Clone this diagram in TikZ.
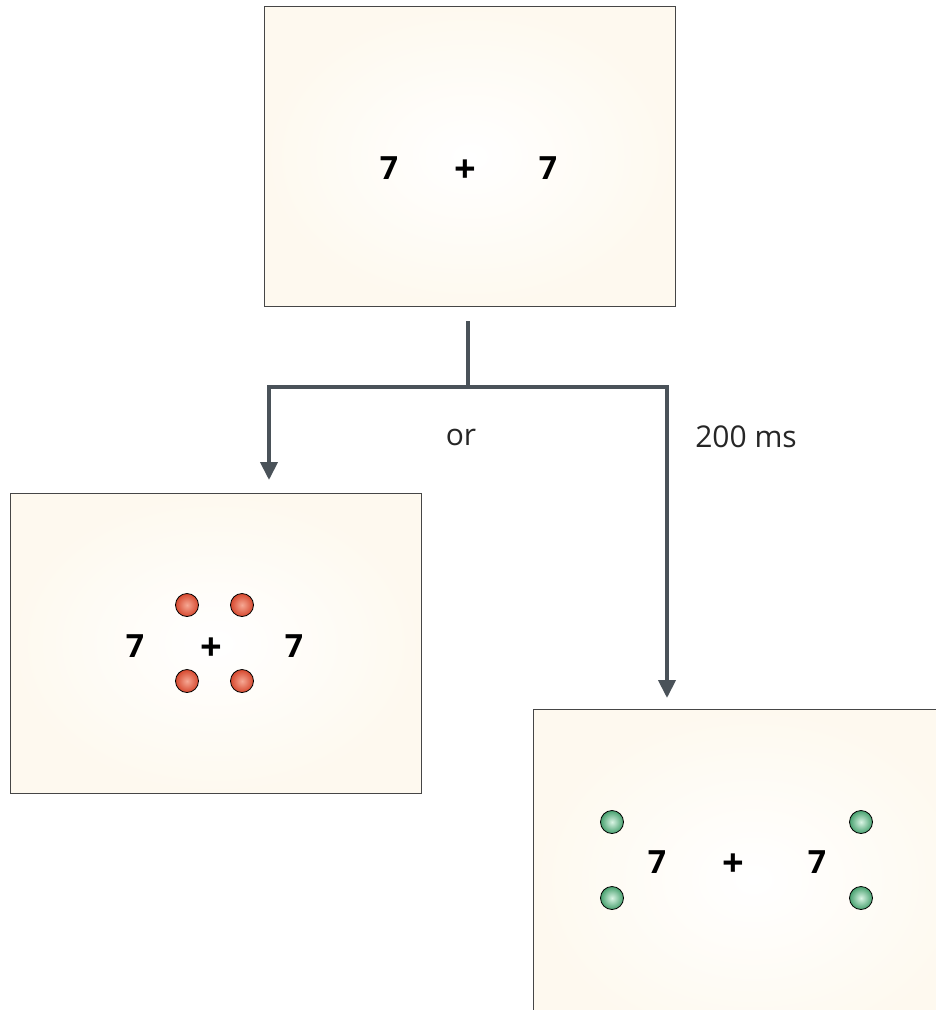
\documentclass[tikz,border=0pt]{standalone}
\usepackage{fontspec}
\setmainfont{Open Sans}
\usetikzlibrary{arrows.meta}
\definecolor{cream}{RGB}{254,249,239}
\definecolor{frameline}{RGB}{70,70,70}
\definecolor{conn}{RGB}{74,82,89}
\definecolor{reddot}{RGB}{214,72,46}
\definecolor{reddotin}{RGB}{246,168,148}
\definecolor{greendot}{RGB}{70,160,110}
\definecolor{greendotin}{RGB}{218,244,228}
\tikzset{
  screen/.style={draw=frameline, line width=0.9pt, inner color=white, outer color=cream,
    minimum width=411pt, minimum height=300pt, anchor=north west, inner sep=0pt},
  digit/.style={font=\fontsize{32}{32}\selectfont\bfseries, inner sep=0pt},
  plus/.style={font=\fontsize{38}{38}\selectfont\bfseries, inner sep=0pt},
  label/.style={font=\fontsize{30}{30}\selectfont, text=black!85, inner sep=0pt},
  reddisc/.style={circle, draw=black, line width=0.8pt, minimum size=23pt, inner sep=0pt,
    inner color=reddotin, outer color=reddot},
  greendisc/.style={circle, draw=black, line width=0.8pt, minimum size=23pt, inner sep=0pt,
    inner color=greendotin, outer color=greendot},
  link/.style={draw=conn, line width=4pt},
  linkarrow/.style={link, -{Triangle[length=18pt,width=17pt]}}
}
\begin{document}
\begin{tikzpicture}[x=1pt,y=-1pt]
\useasboundingbox (0,0) rectangle (935,1010);
\fill[white] (0,0) rectangle (935,1010);

% fixation screen
\node[screen] (top) at (264,6) {};
\node[digit] (t7a) at (389,168) {7};
\node[plus]  (tp)  at (465,171) {+};
\node[digit] (t7b) at (548,168) {7};

% central cue screen
\node[screen] (left) at (10,493) {};
\node[digit] (l7a) at (135,646) {7};
\node[plus]  (lp)  at (211,649) {+};
\node[digit] (l7b) at (294,646) {7};
\node[reddisc] (r1) at (187,605) {};
\node[reddisc] (r2) at (242,605) {};
\node[reddisc] (r3) at (187,681) {};
\node[reddisc] (r4) at (242,681) {};

% peripheral cue screen (runs past the page edge)
\node[screen, minimum width=440pt, minimum height=340pt] (right) at (533,709) {};
\node[digit] (g7a) at (657,862) {7};
\node[plus]  (gp)  at (733,865) {+};
\node[digit] (g7b) at (817,862) {7};
\node[greendisc] (g1) at (612,822) {};
\node[greendisc] (g2) at (861,822) {};
\node[greendisc] (g3) at (612,898) {};
\node[greendisc] (g4) at (861,898) {};

% branching connector
\coordinate (stem) at (468,321);
\coordinate (fork) at (468,387);
\coordinate (lcorner) at (269,387);
\coordinate (rcorner) at (667,387);
\coordinate (ltip) at (269,480);
\coordinate (rtip) at (667,698);
\draw[link, line cap=butt] (stem) -- (fork);
\draw[linkarrow, line join=miter] (fork) -- (lcorner) -- (ltip);
\draw[linkarrow, line join=miter] (fork) -- (rcorner) -- (rtip);

\node[label] (or) at (461,437) {or};
\node[label] (ms) at (746,437) {200 ms};
\end{tikzpicture}
\end{document}
